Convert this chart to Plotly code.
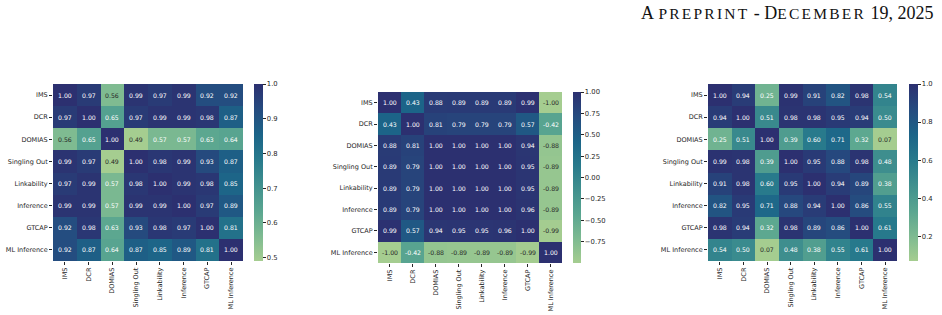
import plotly.graph_objects as go

W, H = 942, 315

labels = ["IMS", "DCR", "DOMIAS", "Singling Out", "Linkability", "Inference", "GTCAP", "ML Inference"]

corr_left = [
    [1.00, 0.97, 0.56, 0.99, 0.97, 0.99, 0.92, 0.92],
    [0.97, 1.00, 0.65, 0.97, 0.99, 0.99, 0.98, 0.87],
    [0.56, 0.65, 1.00, 0.49, 0.57, 0.57, 0.63, 0.64],
    [0.99, 0.97, 0.49, 1.00, 0.98, 0.99, 0.93, 0.87],
    [0.97, 0.99, 0.57, 0.98, 1.00, 0.99, 0.98, 0.85],
    [0.99, 0.99, 0.57, 0.99, 0.99, 1.00, 0.97, 0.89],
    [0.92, 0.98, 0.63, 0.93, 0.98, 0.97, 1.00, 0.81],
    [0.92, 0.87, 0.64, 0.87, 0.85, 0.89, 0.81, 1.00],
]

corr_mid = [
    [1.00, 0.43, 0.88, 0.89, 0.89, 0.89, 0.99, -1.00],
    [0.43, 1.00, 0.81, 0.79, 0.79, 0.79, 0.57, -0.42],
    [0.88, 0.81, 1.00, 1.00, 1.00, 1.00, 0.94, -0.88],
    [0.89, 0.79, 1.00, 1.00, 1.00, 1.00, 0.95, -0.89],
    [0.89, 0.79, 1.00, 1.00, 1.00, 1.00, 0.95, -0.89],
    [0.89, 0.79, 1.00, 1.00, 1.00, 1.00, 0.96, -0.89],
    [0.99, 0.57, 0.94, 0.95, 0.95, 0.96, 1.00, -0.99],
    [-1.00, -0.42, -0.88, -0.89, -0.89, -0.89, -0.99, 1.00],
]

corr_right = [
    [1.00, 0.94, 0.25, 0.99, 0.91, 0.82, 0.98, 0.54],
    [0.94, 1.00, 0.51, 0.98, 0.98, 0.95, 0.94, 0.50],
    [0.25, 0.51, 1.00, 0.39, 0.60, 0.71, 0.32, 0.07],
    [0.99, 0.98, 0.39, 1.00, 0.95, 0.88, 0.98, 0.48],
    [0.91, 0.98, 0.60, 0.95, 1.00, 0.94, 0.89, 0.38],
    [0.82, 0.95, 0.71, 0.88, 0.94, 1.00, 0.86, 0.55],
    [0.98, 0.94, 0.32, 0.98, 0.89, 0.86, 1.00, 0.61],
    [0.54, 0.50, 0.07, 0.48, 0.38, 0.55, 0.61, 1.00],
]

cbar_ticks_left = [0.5, 0.6, 0.7, 0.8, 0.9, 1.0]
cbar_ticks_mid = [-0.75, -0.5, -0.25, 0.0, 0.25, 0.5, 0.75, 1.0]
cbar_ticks_right = [0.2, 0.4, 0.6, 0.8, 1.0]

header_words = ["A", "preprint", "-", "December", "19,", "2025"]

# approximate seaborn "crest" colormap
crest_stops = [
    (0.000, (165, 205, 144)),
    (0.143, (125, 186, 145)),
    (0.286, (89, 165, 144)),
    (0.429, (64, 144, 142)),
    (0.571, (40, 122, 140)),
    (0.714, (28, 100, 136)),
    (0.857, (37, 75, 127)),
    (1.000, (44, 48, 112)),
]
colorscale = [[p, "rgb(%d,%d,%d)" % c] for p, c in crest_stops]


def crest_color(t):
    t = min(max(t, 0.0), 1.0)
    for (p0, c0), (p1, c1) in zip(crest_stops[:-1], crest_stops[1:]):
        if t <= p1:
            f = (t - p0) / (p1 - p0) if p1 > p0 else 0
            return tuple(c0[i] + f * (c1[i] - c0[i]) for i in range(3))
    return crest_stops[-1][1]


def luminance(rgb):
    vals = []
    for c in rgb:
        c = c / 255.0
        vals.append(c / 12.92 if c <= 0.03928 else ((c + 0.055) / 1.055) ** 2.4)
    return 0.2126 * vals[0] + 0.7152 * vals[1] + 0.0722 * vals[2]


def small_caps(word):
    out = ""
    run = ""
    for ch in word + "\0":
        if ch.islower():
            run += ch.upper()
            continue
        if run:
            out += "<span style='font-size:15.5px;letter-spacing:2.2px'>%s</span>" % run
            run = ""
        if ch != "\0":
            out += ch
    return out


FONT = "DejaVu Sans"
TXT = "#262626"

panels = [
    dict(z=corr_left, box=(53, 243, 84, 261), cb=(254, 9), ticks=cbar_ticks_left, fmt="%.1f"),
    dict(z=corr_mid, box=(378, 562, 92, 263), cb=(573, 8), ticks=cbar_ticks_mid, fmt="%.2f"),
    dict(z=corr_right, box=(708, 897, 84, 261), cb=(909, 9), ticks=cbar_ticks_right, fmt="%.1f"),
]

fig = go.Figure()
annotations = []
layout_axes = {}

for i, p in enumerate(panels):
    n = i + 1
    xa = "x" if n == 1 else "x%d" % n
    ya = "y" if n == 1 else "y%d" % n
    z = p["z"]
    zmin = min(min(r) for r in z)
    zmax = max(max(r) for r in z)
    x0, x1, y0, y1 = p["box"]
    cbx, cbt = p["cb"]
    fig.add_trace(go.Heatmap(
        z=z, x=labels, y=labels, xaxis=xa, yaxis=ya,
        colorscale=colorscale, zmin=zmin, zmax=zmax,
        hoverinfo="skip",
        colorbar=dict(
            x=cbx / W, xanchor="left", xpad=0, ypad=0,
            y=1 - y0 / H, yanchor="top",
            lenmode="pixels", len=y1 - y0,
            thickness=cbt, outlinewidth=0,
            ticks="outside", ticklen=3, tickwidth=0.8, tickcolor=TXT,
            tickvals=p["ticks"],
            ticktext=[(p["fmt"] % v).replace("-", "\u2212") for v in p["ticks"]],
            tickfont=dict(family=FONT, size=6.8, color=TXT),
        ),
    ))
    layout_axes["xaxis" if n == 1 else "xaxis%d" % n] = dict(
        domain=[x0 / W, x1 / W], anchor=ya, type="category",
        showgrid=False, zeroline=False, showline=False,
        ticks="outside", ticklen=3, tickwidth=0.8, tickcolor=TXT,
        tickangle=-90, tickfont=dict(family=FONT, size=6.5, color=TXT),
        fixedrange=True,
    )
    layout_axes["yaxis" if n == 1 else "yaxis%d" % n] = dict(
        domain=[1 - y1 / H, 1 - y0 / H], anchor=xa, type="category",
        autorange="reversed",
        showgrid=False, zeroline=False, showline=False,
        ticks="outside", ticklen=3, tickwidth=0.8, tickcolor=TXT,
        tickfont=dict(family=FONT, size=6.5, color=TXT),
        fixedrange=True,
    )
    for r, row in enumerate(z):
        for c, v in enumerate(row):
            col = crest_color((v - zmin) / (zmax - zmin))
            tc = TXT if luminance(col) > 0.408 else "white"
            annotations.append(dict(
                x=labels[c], y=labels[r], xref=xa, yref=ya,
                text="%.2f" % v, showarrow=False,
                font=dict(family=FONT, size=6.2, color=tc),
            ))

annotations.append(dict(
    x=935 / W, y=1 - 13 / H, xref="paper", yref="paper",
    xanchor="right", yanchor="middle", showarrow=False,
    text="\u00a0".join(small_caps(w) for w in header_words),
    font=dict(family="Liberation Serif", size=18, color="#111111"),
))

fig.update_layout(
    width=W, height=H,
    margin=dict(l=0, r=0, t=0, b=0),
    paper_bgcolor="white", plot_bgcolor="white",
    showlegend=False,
    annotations=annotations,
    **layout_axes,
)

fig.write_html("out.html", config={"displayModeBar": False})
